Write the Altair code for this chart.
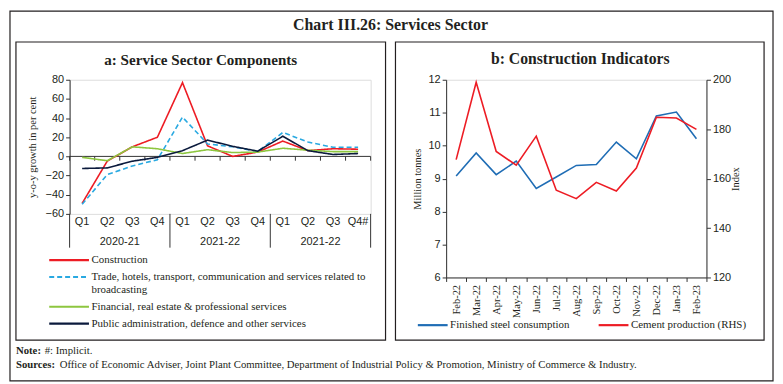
import altair as alt
import pandas as pd

# ---------------- data ----------------
quarters = ["Q1", "Q2", "Q3", "Q4", "Q1", "Q2", "Q3", "Q4", "Q1", "Q2", "Q3", "Q4#"]
year_groups = ["2020-21", "2021-22", "2021-22"]
construction = [-49, -5, 10, 20, 77, 11, 0, 4.5, 16, 6, 8, 7.5]
trade = [-50, -19, -10, -3.5, 41, 13, 10, 5, 25, 15, 9.5, 9.5]
financial = [-1, -4.5, 10, 8, 3, 7, 4, 4.5, 8.5, 6.5, 5, 5]
public_admin = [-12.6, -12, -5, -1, 6, 17, 10.5, 5.5, 21, 6, 2, 3]
series_a = [
    "Construction",
    "Trade, hotels, transport, communication and services related to broadcasting",
    "Financial, real estate & professional services",
    "Public administration, defence and other services",
]
colors_a = ["#ED1C24", "#29A9E1", "#8DC63F", "#0B1A3C"]
dash_a = [[1, 0], [5, 3], [1, 0], [1, 0]]
y_ticks_a = [-60, -40, -20, 0, 20, 40, 60, 80]

months = ["Feb-22", "Mar-22", "Apr-22", "May-22", "Jun-22", "Jul-22", "Aug-22",
          "Sep-22", "Oct-22", "Nov-22", "Dec-22", "Jan-23", "Feb-23"]
steel = [9.08, 9.78, 9.12, 9.53, 8.70, 9.05, 9.40, 9.43, 10.11, 9.60, 10.90, 11.02, 10.21]
cement = [167.7, 199.0, 171.0, 165.4, 177.2, 155.3, 151.9, 158.5, 155.0, 164.3, 184.8, 184.5, 179.9]
series_b = ["Finished steel consumption", "Cement production (RHS)"]
colors_b = ["#1F6DB5", "#ED1C24"]

SERIF = "Liberation Serif"
SANS = "Liberation Sans"
INK = "#231F20"

# ---------------- panel a ----------------
W_A, H_A = 303, 135
keys = [f"{i // 4}|{q}|{i:02d}" for i, q in enumerate(quarters)]
rows = []
for name, vals in zip(series_a, [construction, trade, financial, public_admin]):
    for k, v in zip(keys, vals):
        rows.append({"key": k, "value": v, "series": name})
df_a = pd.DataFrame(rows)

xa_scale = alt.Scale(type="band", domain=keys, paddingInner=0, paddingOuter=0)
ya_scale = alt.Scale(domain=[-60, 80], nice=False, zero=False)

y_axis_a = alt.Axis(title="y-o-y growth in per cent", values=y_ticks_a,
                    grid=False, tickSize=4, labelFont=SANS, labelFontSize=11,
                    labelOverlap=False, labelColor=INK, titleFont=SERIF, titleFontSize=10.5,
                    titleFontWeight="normal", titleColor=INK, titlePadding=8,
                    domainColor="#333", tickColor="#333")
x_axis_a = alt.Axis(title=None, labelExpr="split(datum.value, '|')[1]", domain=False,
                    ticks=False, labelAngle=0, labelAlign="center", labelPadding=2,
                    labelFont=SANS, labelFontSize=11, labelColor=INK)

leg_a = alt.Legend(
    title=None, orient="none", legendX=-12, legendY=170, direction="vertical",
    symbolType="M-2,0H2", symbolSize=400, symbolStrokeWidth=2.2,
    labelOffset=11, labelFont=SERIF, labelFontSize=11, labelColor=INK,
    labelLimit=500, rowPadding=0, padding=0,
    labelExpr="indexof(datum.label, 'Trade') == 0 ? "
              "['Trade, hotels, transport, communication and services related to', 'broadcasting'] : datum.label",
)

lines_a = alt.Chart(df_a).mark_line(strokeWidth=1.6).encode(
    x=alt.X("key:N", scale=xa_scale, sort=keys, bandPosition=0.5, axis=x_axis_a),
    y=alt.Y("value:Q", scale=ya_scale, axis=y_axis_a),
    color=alt.Color("series:N", scale=alt.Scale(domain=series_a, range=colors_a), legend=leg_a),
    strokeDash=alt.StrokeDash("series:N", scale=alt.Scale(domain=series_a, range=dash_a), legend=leg_a),
)

# zero line with ticks at category boundaries (same y field / axis as the lines)
one = pd.DataFrame({"a": [0]})
zero_df = pd.DataFrame({"value": [0], "value2": [-4.5]})
zero_line = alt.Chart(zero_df).mark_rule(color="#333", strokeWidth=1).encode(
    y=alt.Y("value:Q", scale=ya_scale, axis=y_axis_a), x=alt.value(0), x2=alt.value(W_A))
df_bound = pd.DataFrame({"key": keys, "value": 0, "value2": -4.5})
zero_ticks = alt.Chart(df_bound).mark_rule(color="#333").encode(
    x=alt.X("key:N", scale=xa_scale, bandPosition=0, axis=x_axis_a),
    y=alt.Y("value:Q", scale=ya_scale, axis=y_axis_a), y2="value2:Q")
zero_tick_end = alt.Chart(df_bound.tail(1)).mark_rule(color="#333").encode(
    x=alt.X("key:N", scale=xa_scale, bandPosition=1, axis=x_axis_a),
    y=alt.Y("value:Q", scale=ya_scale, axis=y_axis_a), y2="value2:Q")

# year-group labels and separators
df_years = pd.DataFrame({"key": [keys[1], keys[5], keys[9]], "label": year_groups})
year_text = alt.Chart(df_years).mark_text(font=SANS, fontSize=11, color=INK, baseline="middle").encode(
    x=alt.X("key:N", scale=xa_scale, bandPosition=1, axis=x_axis_a), y=alt.value(163), text="label:N")
df_sep = pd.DataFrame({"key": [keys[0], keys[4], keys[8]]})
sep = alt.Chart(df_sep).mark_rule(color="#333").encode(
    x=alt.X("key:N", scale=xa_scale, bandPosition=0, axis=x_axis_a), y=alt.value(H_A), y2=alt.value(169))
sep_end = alt.Chart(pd.DataFrame({"key": [keys[-1]]})).mark_rule(color="#333").encode(
    x=alt.X("key:N", scale=xa_scale, bandPosition=1, axis=x_axis_a), y=alt.value(H_A), y2=alt.value(169))

# frames and texts
outer = alt.Chart(one).mark_rect(fillOpacity=0, stroke=INK, strokeWidth=1.2).encode(
    x=alt.value(-60), x2=alt.value(708), y=alt.value(-69), y2=alt.value(303))
frame_a = alt.Chart(one).mark_rect(fillOpacity=0, stroke=INK, strokeWidth=1.2).encode(
    x=alt.value(-54), x2=alt.value(318), y=alt.value(-38), y2=alt.value(262))
main_title = alt.Chart(one).mark_text(font=SERIF, fontSize=16, fontWeight="bold", color=INK).encode(
    x=alt.value(323), y=alt.value(-55), text=alt.value("Chart III.26: Services Sector"))
title_a = alt.Chart(one).mark_text(font=SERIF, fontSize=15.2, fontWeight="bold", color=INK).encode(
    x=alt.value(132), y=alt.value(-20), text=alt.value("a: Service Sector Components"))
note_b = alt.Chart(one).mark_text(font=SERIF, fontSize=10.8, fontWeight="bold", color=INK, align="left").encode(
    x=alt.value(-54), y=alt.value(273), text=alt.value("Note:"))
note_t = alt.Chart(one).mark_text(font=SERIF, fontSize=10.8, color=INK, align="left").encode(
    x=alt.value(-25), y=alt.value(273), text=alt.value("#: Implicit."))
src_b = alt.Chart(one).mark_text(font=SERIF, fontSize=10.8, fontWeight="bold", color=INK, align="left").encode(
    x=alt.value(-54), y=alt.value(287), text=alt.value("Sources:"))
src_t = alt.Chart(one).mark_text(font=SERIF, fontSize=10.8, color=INK, align="left").encode(
    x=alt.value(-10), y=alt.value(287),
    text=alt.value("Office of Economic Adviser, Joint Plant Committee, Department of Industrial Policy & Promotion, Ministry of Commerce & Industry."))

panel_a = alt.layer(
    outer, frame_a, main_title, title_a, note_b, note_t, src_b, src_t,
    zero_line, zero_ticks, zero_tick_end, sep, sep_end, year_text, lines_a,
).properties(width=W_A, height=H_A)

# ---------------- panel b ----------------
W_B, H_B = 262, 199
df_b = pd.DataFrame({"month": months, "steel": steel, "cement": cement})
xb = alt.X("month:N", sort=months,
           scale=alt.Scale(type="band", domain=months, paddingInner=0, paddingOuter=0),
           bandPosition=0.5,
           axis=alt.Axis(title=None, labelAngle=270, tickBand="extent", tickSize=4,
                         labelFont=SERIF, labelFontSize=10.5, labelColor=INK, labelPadding=3,
                         domainColor="#333", tickColor="#333"))

leg_b = alt.Legend(
    title=None, orient="none", legendX=-22.5, legendY=238, direction="horizontal",
    symbolType="M-2,0H2", symbolSize=225, symbolStrokeWidth=2.2,
    labelOffset=8.5, labelFont=SERIF, labelFontSize=11, labelColor=INK,
    labelLimit=300, columnPadding=24, padding=0,
)
color_b = alt.Color("series:N", scale=alt.Scale(domain=series_b, range=colors_b), legend=leg_b)

steel_line = alt.Chart(df_b).transform_calculate(series=f"'{series_b[0]}'").mark_line(strokeWidth=1.6).encode(
    x=xb,
    y=alt.Y("steel:Q", scale=alt.Scale(domain=[6, 12], nice=False, zero=False),
            axis=alt.Axis(title="Million tonnes", orient="left", values=list(range(6, 13)), grid=False,
                          tickSize=4, labelFont=SANS, labelFontSize=11, labelColor=INK,
                          labelOverlap=False, titleFont=SERIF, titleFontSize=10.5,
                          titleFontWeight="normal", titleColor=INK, titlePadding=6,
                          domainColor="#333", tickColor="#333")),
    color=color_b,
)
cement_line = alt.Chart(df_b).transform_calculate(series=f"'{series_b[1]}'").mark_line(strokeWidth=1.6).encode(
    x=xb,
    y=alt.Y("cement:Q", scale=alt.Scale(domain=[120, 200], nice=False, zero=False),
            axis=alt.Axis(title="Index", orient="right", values=list(range(120, 201, 20)), grid=False,
                          tickSize=4, labelFont=SANS, labelFontSize=11, labelColor=INK,
                          labelOverlap=False, titleFont=SERIF, titleFontSize=10.5,
                          titleFontWeight="normal", titleColor=INK, titlePadding=10, titleAngle=270,
                          domainColor="#333", tickColor="#333")),
    color=color_b,
)
frame_b = alt.Chart(one).mark_rect(fillOpacity=0, stroke=INK, strokeWidth=1.2).encode(
    x=alt.value(-51), x2=alt.value(320), y=alt.value(-38), y2=alt.value(262))
title_b = alt.Chart(one).mark_text(font=SERIF, fontSize=15.8, fontWeight="bold", color=INK).encode(
    x=alt.value(135), y=alt.value(-21), text=alt.value("b: Construction Indicators"))

panel_b = alt.layer(frame_b, title_b, steel_line, cement_line).resolve_scale(
    y="independent").properties(width=W_B, height=H_B)

chart = (
    alt.hconcat(panel_a, panel_b, spacing=76, bounds="flush", padding=0)
    .resolve_scale(color="independent", strokeDash="independent")
    .resolve_legend(color="independent", strokeDash="independent")
    .configure_view(stroke=None)
    .configure_axis(labelOverlap=False)
    .configure(background="white")
)

chart.save("out.html", embed_options={"renderer": "svg", "actions": False})
